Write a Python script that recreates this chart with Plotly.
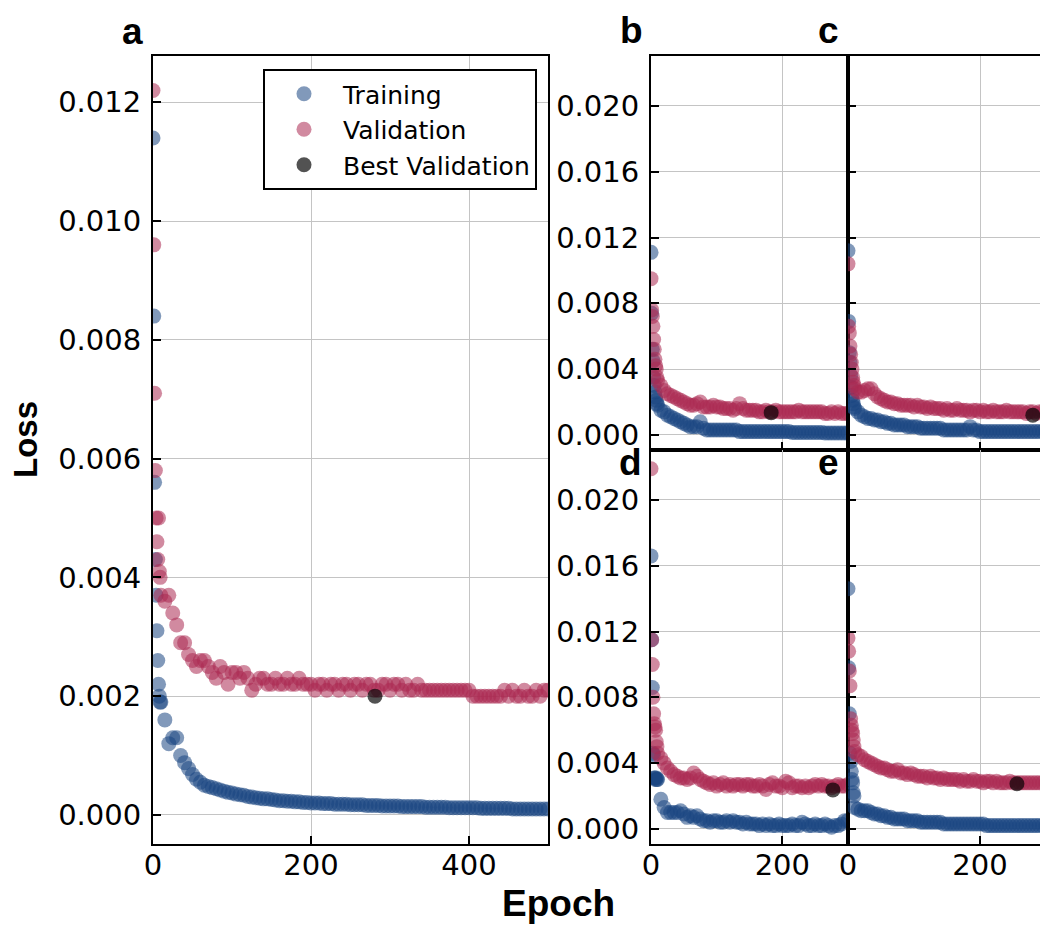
import plotly.graph_objects as go

# ---------------- data ----------------
EPOCHS_A = [0, 1, 2, 3, 4, 5, 6, 7, 8, 9,
            10, 15, 20, 25, 30, 35, 40, 45, 50, 55,
            60, 65, 70, 75, 80, 85, 90, 95, 100, 105,
            110, 115, 120, 125, 130, 135, 140, 145, 150, 155,
            160, 165, 170, 175, 180, 185, 190, 195, 200, 205,
            210, 215, 220, 225, 230, 235, 240, 245, 250, 255,
            260, 265, 270, 275, 280, 285, 290, 295, 300, 305,
            310, 315, 320, 325, 330, 335, 340, 345, 350, 355,
            360, 365, 370, 375, 380, 385, 390, 395, 400, 405,
            410, 415, 420, 425, 430, 435, 440, 445, 450, 455,
            460, 465, 470, 475, 480, 485, 490, 495, 500]
TRAIN_A = [0.0114, 0.0084, 0.0056, 0.0043, 0.0037, 0.0031, 0.0026, 0.0022, 0.0020, 0.0019,
           0.0019, 0.0016, 0.0012, 0.0013, 0.0013, 0.0010, 0.00088, 0.00078, 0.00068, 0.00060,
           0.00055, 0.00050, 0.00048, 0.00046, 0.00044, 0.00042, 0.00040, 0.00038, 0.00037, 0.00035,
           0.00034, 0.00033, 0.00031, 0.00030, 0.00029, 0.00028, 0.00027, 0.00027, 0.00026, 0.00025,
           0.00024, 0.00024, 0.00023, 0.00023, 0.00022, 0.00022, 0.00021, 0.00021, 0.00020, 0.00020,
           0.00020, 0.00019, 0.00019, 0.00019, 0.00018, 0.00018, 0.00018, 0.00018, 0.00017, 0.00017,
           0.00017, 0.00017, 0.00016, 0.00016, 0.00016, 0.00016, 0.00015, 0.00015, 0.00015, 0.00015,
           0.00015, 0.00014, 0.00014, 0.00014, 0.00014, 0.00014, 0.00014, 0.00013, 0.00013, 0.00013,
           0.00013, 0.00013, 0.00013, 0.00012, 0.00012, 0.00012, 0.00012, 0.00012, 0.00012, 0.00012,
           0.00012, 0.00011, 0.00011, 0.00011, 0.00011, 0.00011, 0.00011, 0.00011, 0.00011, 0.00010,
           0.00010, 0.00010, 0.00010, 0.00010, 0.00010, 0.00010, 0.00010, 0.00010, 0.00010]
VAL_A = [0.0122, 0.0096, 0.0071, 0.0058, 0.0050, 0.0046, 0.0043, 0.0050, 0.0041, 0.0040,
         0.0037, 0.0036, 0.0037, 0.0034, 0.0032, 0.0029, 0.0029, 0.0027, 0.0026, 0.0025,
         0.0026, 0.0026, 0.0025, 0.0024, 0.0023, 0.0025, 0.0024, 0.0022, 0.0024, 0.0024,
         0.0023, 0.0024, 0.0023, 0.0021, 0.0022, 0.0023, 0.0023, 0.0022, 0.0022, 0.0023,
         0.0022, 0.0022, 0.0023, 0.0022, 0.0022, 0.0023, 0.0022, 0.0022, 0.0022, 0.0021,
         0.0022, 0.0022, 0.0021, 0.0022, 0.0022, 0.0021, 0.0022, 0.0022, 0.0021, 0.0022,
         0.0022, 0.0021, 0.0022, 0.0022, 0.0021, 0.0021, 0.0022, 0.0022, 0.0021, 0.0022,
         0.0022, 0.0021, 0.0022, 0.0021, 0.0021, 0.0022, 0.0021, 0.0021, 0.0021, 0.0021,
         0.0021, 0.0021, 0.0021, 0.0021, 0.0021, 0.0021, 0.0021, 0.0021, 0.0021, 0.0020,
         0.0020, 0.0020, 0.0020, 0.0020, 0.0020, 0.0020, 0.0020, 0.0021, 0.0020, 0.0021,
         0.0020, 0.0020, 0.0021, 0.0020, 0.0020, 0.0021, 0.0020, 0.0021, 0.0021]
BEST_A_EPOCH = [281]
BEST_A_LOSS = [0.0020]

EPOCHS_SMALL = [0, 1, 2, 3, 4, 5, 6, 7, 8, 9,
                10, 15, 20, 25, 30, 35, 40, 45, 50, 55,
                60, 65, 70, 75, 80, 85, 90, 95, 100, 105,
                110, 115, 120, 125, 130, 135, 140, 145, 150, 155,
                160, 165, 170, 175, 180, 185, 190, 195, 200, 205,
                210, 215, 220, 225, 230, 235, 240, 245, 250, 255,
                260, 265, 270, 275, 280, 285, 290, 295, 300]

TRAIN_B = [0.0111, 0.0074, 0.0052, 0.0045, 0.0035, 0.0030, 0.0026, 0.0023, 0.0021, 0.0019,
           0.0018, 0.0015, 0.0014, 0.0012, 0.0011, 0.0010, 0.0009, 0.0008, 0.0007, 0.0006,
           0.0005, 0.0005, 0.0005, 0.0008, 0.0004, 0.0003, 0.0003, 0.0003, 0.0003, 0.0003,
           0.0003, 0.0003, 0.0003, 0.0003, 0.0003, 0.0002, 0.0002, 0.0002, 0.0002, 0.0002,
           0.0002, 0.0002, 0.0002, 0.0002, 0.0002, 0.0002, 0.0002, 0.0002, 0.0002, 0.0002,
           0.0002, 0.00015, 0.00015, 0.00015, 0.00015, 0.00015, 0.00015, 0.00015, 0.00015, 0.00015,
           0.00015, 0.00012, 0.00012, 0.00012, 0.00012, 0.00012, 0.00012, 0.00012, 0.00012]
VAL_B = [0.0095, 0.0076, 0.0072, 0.0066, 0.0058, 0.0052, 0.0046, 0.0042, 0.0040, 0.0035,
         0.0033, 0.0030, 0.0027, 0.0025, 0.0024, 0.0023, 0.0022, 0.0021, 0.0020, 0.0019,
         0.0018, 0.0018, 0.0019, 0.0020, 0.0017, 0.0017, 0.0017, 0.0018, 0.0017, 0.0017,
         0.0016, 0.0016, 0.0016, 0.0015, 0.0016, 0.0019, 0.0016, 0.0015, 0.0015, 0.0015,
         0.0015, 0.0014, 0.0014, 0.0015, 0.0014, 0.0014, 0.0015, 0.0014, 0.0014, 0.0014,
         0.0014, 0.0014, 0.0014, 0.0015, 0.0014, 0.0014, 0.0014, 0.0014, 0.0014, 0.0014,
         0.0014, 0.0013, 0.0013, 0.0014, 0.0013, 0.0014, 0.0013, 0.0013, 0.0013]
BEST_B_EPOCH = [183]
BEST_B_LOSS = [0.00135]

TRAIN_C = [0.0112, 0.0069, 0.0050, 0.0044, 0.0036, 0.0029, 0.0024, 0.0021, 0.0019, 0.0017,
           0.0016, 0.0014, 0.0012, 0.0011, 0.0010, 0.0010, 0.0009, 0.0009, 0.0008, 0.0008,
           0.0007, 0.0007, 0.0006, 0.0006, 0.0006, 0.0006, 0.0005, 0.0005, 0.0005, 0.0005,
           0.0004, 0.0004, 0.0004, 0.0004, 0.0004, 0.0004, 0.0004, 0.0003, 0.0003, 0.0003,
           0.0003, 0.0003, 0.0003, 0.0003, 0.0003, 0.0005, 0.0003, 0.0003, 0.0002, 0.0002,
           0.0002, 0.0002, 0.0002, 0.0002, 0.0002, 0.0002, 0.0002, 0.0002, 0.0002, 0.0002,
           0.0002, 0.0002, 0.0002, 0.0002, 0.0002, 0.0002, 0.0002, 0.0002, 0.0002]
VAL_C = [0.0104, 0.0066, 0.0062, 0.0054, 0.0049, 0.0044, 0.0040, 0.0035, 0.0032, 0.0030,
         0.0028, 0.0026, 0.0026, 0.0027, 0.0028, 0.0028, 0.0025, 0.0023, 0.0022, 0.0021,
         0.0020, 0.0020, 0.0019, 0.0019, 0.0018, 0.0018, 0.0018, 0.0018, 0.0017, 0.0018,
         0.0017, 0.0017, 0.0016, 0.0017, 0.0016, 0.0016, 0.0016, 0.0015, 0.0016, 0.0015,
         0.0015, 0.0016, 0.0015, 0.0015, 0.0015, 0.0014, 0.0015, 0.0015, 0.0014, 0.0015,
         0.0014, 0.0014, 0.0015, 0.0014, 0.0014, 0.0014, 0.0015, 0.0014, 0.0014, 0.0014,
         0.0014, 0.0014, 0.0013, 0.0014, 0.0014, 0.0013, 0.0014, 0.0014, 0.0014]
BEST_C_EPOCH = [280]
BEST_C_LOSS = [0.0012]

TRAIN_D = [0.0166, 0.0115, 0.0086, 0.0046, 0.0045, 0.0031, 0.0031, 0.0030, 0.0031, 0.0030,
           0.0030, 0.0018, 0.0013, 0.0010, 0.0010, 0.0010, 0.0010, 0.0011, 0.0009, 0.0007,
           0.0008, 0.0007, 0.0008, 0.0006, 0.0005, 0.0005, 0.0004, 0.0005, 0.0005, 0.0004,
           0.0004, 0.0005, 0.0004, 0.0005, 0.0004, 0.0004, 0.0003, 0.0004, 0.0003, 0.0003,
           0.0003, 0.0002, 0.0003, 0.0002, 0.0003, 0.0002, 0.0002, 0.0003, 0.0002, 0.0002,
           0.0002, 0.0003, 0.0002, 0.0002, 0.0004, 0.0003, 0.0002, 0.0002, 0.0003, 0.0002,
           0.0002, 0.0003, 0.0002, 0.0001, 0.0002, 0.0002, 0.0003, 0.0005, 0.0005]
VAL_D = [0.0219, 0.0115, 0.0100, 0.0080, 0.0070, 0.0064, 0.0062, 0.0060, 0.0053, 0.0050,
         0.0046, 0.0043, 0.0040, 0.0037, 0.0035, 0.0033, 0.0032, 0.0031, 0.0031, 0.0030,
         0.0031, 0.0034, 0.0032, 0.0030, 0.0029, 0.0028, 0.0027, 0.0028, 0.0026, 0.0027,
         0.0028, 0.0026, 0.0027, 0.0026, 0.0027, 0.0027, 0.0026, 0.0027, 0.0027, 0.0026,
         0.0026, 0.0027, 0.0026, 0.0024, 0.0027, 0.0028, 0.0026, 0.0026, 0.0025, 0.0029,
         0.0028, 0.0025, 0.0026, 0.0026, 0.0025, 0.0026, 0.0025, 0.0026, 0.0027, 0.0026,
         0.0027, 0.0026, 0.0026, 0.0025, 0.0026, 0.0027, 0.0026, 0.0026, 0.0027]
BEST_D_EPOCH = [277]
BEST_D_LOSS = [0.00237]

TRAIN_E = [0.0146, 0.0098, 0.0070, 0.0046, 0.0041, 0.0035, 0.0030, 0.0028, 0.0022, 0.0020,
           0.0013, 0.0012, 0.0011, 0.0011, 0.0011, 0.0010, 0.0009, 0.0009, 0.0008, 0.0008,
           0.0007, 0.0007, 0.0006, 0.0006, 0.0006, 0.0006, 0.0005, 0.0005, 0.0005, 0.0005,
           0.0004, 0.0004, 0.0004, 0.0004, 0.0004, 0.0004, 0.0004, 0.0003, 0.0003, 0.0003,
           0.0003, 0.0003, 0.0003, 0.0003, 0.0003, 0.0003, 0.0003, 0.0003, 0.0003, 0.0003,
           0.0002, 0.0002, 0.0002, 0.0002, 0.0002, 0.0002, 0.0002, 0.0002, 0.0002, 0.0002,
           0.0002, 0.0002, 0.0002, 0.0002, 0.0002, 0.0002, 0.0002, 0.0002, 0.0002]
VAL_E = [0.0116, 0.0108, 0.0096, 0.0087, 0.0067, 0.0063, 0.0060, 0.0058, 0.0054, 0.0050,
         0.0047, 0.0045, 0.0044, 0.0042, 0.0041, 0.0040, 0.0039, 0.0038, 0.0037, 0.0037,
         0.0036, 0.0035, 0.0035, 0.0036, 0.0034, 0.0034, 0.0033, 0.0034, 0.0033, 0.0032,
         0.0032, 0.0032, 0.0031, 0.0032, 0.0031, 0.0031, 0.0030, 0.0031, 0.0030, 0.0030,
         0.0030, 0.0030, 0.0029, 0.0030, 0.0029, 0.0029, 0.0030, 0.0029, 0.0029, 0.0028,
         0.0029, 0.0029, 0.0028, 0.0029, 0.0028, 0.0028, 0.0028, 0.0029, 0.0028, 0.0028,
         0.0028, 0.0028, 0.0028, 0.0028, 0.0028, 0.0028, 0.0028, 0.0028, 0.0028]
BEST_E_EPOCH = [256]
BEST_E_LOSS = [0.00274]

PANEL_LABELS = ["a", "b", "c", "d", "e"]
SERIES_NAMES = ["Training", "Validation", "Best Validation"]

# ---------------- style ----------------
# the page body keeps an 8 px margin at top/left, so the figure is shifted by it
OFF = 8
W, H = 1048 - OFF, 930 - OFF
TRAIN_COLOR = "#194682"
VAL_COLOR = "#AB2A52"
BEST_COLOR = "#000000"
MSIZE = 15
TICK_FONT = dict(family="DejaVu Sans", size=29, color="black")
LABEL_FONT = "Liberation Sans, Arial, sans-serif"


def px_x(p):
    return min(1.0, max(0.0, (p - OFF) / W))


def px_y(p):
    return min(1.0, max(0.0, 1 - (p - OFF) / H))


panels = [
    ("a", "x", "y", (153, 548), (56, 844), EPOCHS_A, TRAIN_A, VAL_A, BEST_A_EPOCH, BEST_A_LOSS),
    ("b", "x2", "y2", (651, 848), (56, 450), EPOCHS_SMALL, TRAIN_B, VAL_B, BEST_B_EPOCH, BEST_B_LOSS),
    ("c", "x3", "y3", (848, 1046), (56, 450), EPOCHS_SMALL, TRAIN_C, VAL_C, BEST_C_EPOCH, BEST_C_LOSS),
    ("d", "x4", "y4", (651, 848), (450, 844), EPOCHS_SMALL, TRAIN_D, VAL_D, BEST_D_EPOCH, BEST_D_LOSS),
    ("e", "x5", "y5", (848, 1046), (450, 844), EPOCHS_SMALL, TRAIN_E, VAL_E, BEST_E_EPOCH, BEST_E_LOSS),
]

fig = go.Figure()

for i, (lab, xa, ya, xd, yd, ep, tr, va, bx, by) in enumerate(panels):
    first = i == 0
    fig.add_trace(go.Scatter(
        x=ep, y=tr, mode="markers", name=SERIES_NAMES[0], xaxis=xa, yaxis=ya,
        marker=dict(size=MSIZE, color=TRAIN_COLOR, opacity=0.55, line=dict(width=0)),
        showlegend=first, legendgroup="g1"))
    fig.add_trace(go.Scatter(
        x=ep, y=va, mode="markers", name=SERIES_NAMES[1], xaxis=xa, yaxis=ya,
        marker=dict(size=MSIZE, color=VAL_COLOR, opacity=0.55, line=dict(width=0)),
        showlegend=first, legendgroup="g2"))
    fig.add_trace(go.Scatter(
        x=bx, y=by, mode="markers", name=SERIES_NAMES[2], xaxis=xa, yaxis=ya,
        marker=dict(size=MSIZE, color=BEST_COLOR, opacity=0.68, line=dict(width=0)),
        showlegend=first, legendgroup="g3"))


def axis_common():
    return dict(showline=True, linecolor="black", linewidth=2, mirror=True,
                ticks="inside", ticklen=8, tickwidth=2, tickcolor="black",
                showgrid=True, gridcolor="#c4c4c4", gridwidth=1, zeroline=False,
                tickfont=TICK_FONT, automargin=False)


layout_axes = {}
for i, (lab, xa, ya, xd, yd, ep, tr, va, bx, by) in enumerate(panels):
    xname = "xaxis" if xa == "x" else "xaxis" + xa[1:]
    yname = "yaxis" if ya == "y" else "yaxis" + ya[1:]
    xax = axis_common()
    yax = axis_common()
    xax.update(domain=[px_x(xd[0]), px_x(xd[1])], anchor=ya, ticklabelstandoff=-6)
    yax.update(domain=[px_y(yd[1]), px_y(yd[0])], anchor=xa,
               tickformat=".3f", ticklabelstandoff=4)
    if lab == "a":
        xax.update(range=[0, 500], tickvals=[0, 200, 400])
        yax.update(range=[-0.00049, 0.01278],
                   tickvals=[0.000, 0.002, 0.004, 0.006, 0.008, 0.010, 0.012])
    else:
        xax.update(range=[0, 300], tickvals=[0, 200])
        yax.update(range=[-0.00092, 0.02304],
                   tickvals=[0.000, 0.004, 0.008, 0.012, 0.016, 0.020])
        if lab in ("b", "c"):
            xax.update(showticklabels=False)
        if lab in ("c", "e"):
            yax.update(showticklabels=False)
    layout_axes[xname] = xax
    layout_axes[yname] = yax

fig.update_layout(**layout_axes)

annotations = []
label_pos = {"a": (145, 31), "b": (645, 30), "c": (841, 30),
             "d": (644, 462), "e": (841, 462)}
for lab in PANEL_LABELS:
    lx, ly = label_pos[lab]
    annotations.append(dict(text=lab, xref="paper", yref="paper", x=px_x(lx), y=px_y(ly),
                            xanchor="right", yanchor="middle", showarrow=False,
                            font=dict(family=LABEL_FONT, size=37, color="black", weight="bold")))
annotations.append(dict(text="Loss", xref="paper", yref="paper", x=px_x(25), y=px_y(440),
                        xanchor="center", yanchor="middle", showarrow=False, textangle=-90,
                        borderpad=0,
                        font=dict(family=LABEL_FONT, size=33, color="black", weight="bold")))
annotations.append(dict(text="Epoch", xref="paper", yref="paper", x=px_x(558), y=px_y(903),
                        xanchor="center", yanchor="middle", showarrow=False,
                        font=dict(family=LABEL_FONT, size=37, color="black", weight="bold")))

fig.update_layout(
    width=W, height=H,
    margin=dict(l=0, r=0, t=0, b=0),
    paper_bgcolor="white", plot_bgcolor="white",
    template="none",
    annotations=annotations,
    legend=dict(x=px_x(537), y=px_y(69), xanchor="right", yanchor="top",
                bgcolor="white", bordercolor="black", borderwidth=2,
                font=dict(family="DejaVu Sans", size=25, color="black"),
                itemwidth=68, tracegroupgap=0),
    showlegend=True,
)

fig.write_html("out.html")
